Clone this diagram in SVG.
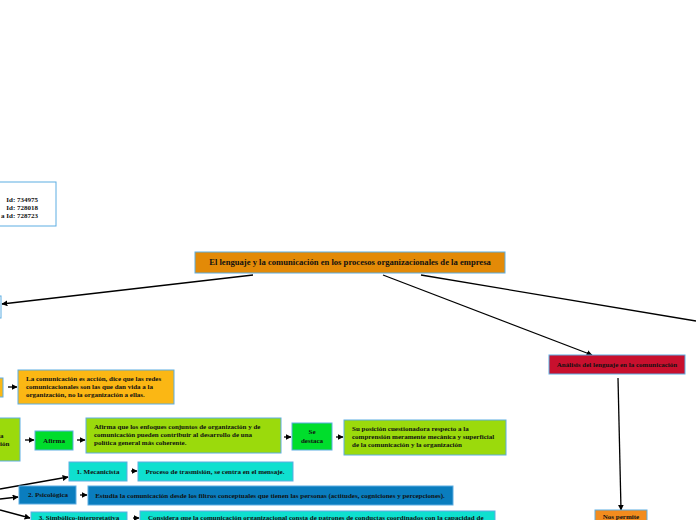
<svg xmlns="http://www.w3.org/2000/svg" width="696" height="520" viewBox="0 0 696 520">
<style>
.t{font-family:"Liberation Serif","Times New Roman",serif;font-weight:bold;font-size:7px;fill:#111}
.c{text-anchor:middle}
.box{stroke:#5DADE2;stroke-width:1}
.ln{stroke:#000;stroke-width:1.3;fill:none}
</style>
<defs>
<marker id="ah" viewBox="0 0 10 10" refX="9" refY="5" markerWidth="6" markerHeight="6" orient="auto" markerUnits="userSpaceOnUse">
<path d="M0,0 L10,5 L0,10 z" fill="#000"/>
</marker>
</defs>
<rect width="696" height="520" fill="#fff"/>
<g id="connectors">
<line class="ln" x1="253" y1="275" x2="2" y2="304" marker-end="url(#ah)"/>
<line class="ln" x1="383" y1="275" x2="592" y2="355" marker-end="url(#ah)"/>
<line class="ln" x1="421" y1="275" x2="696" y2="321"/>
<line class="ln" x1="618" y1="378" x2="621" y2="510" marker-end="url(#ah)"/>
<line class="ln" x1="8" y1="387" x2="17" y2="387" marker-end="url(#ah)"/>
<line class="ln" x1="25" y1="440" x2="34" y2="440" marker-end="url(#ah)"/>
<line class="ln" x1="77" y1="440" x2="85" y2="440" marker-end="url(#ah)"/>
<line class="ln" x1="284" y1="437" x2="291" y2="437" marker-end="url(#ah)"/>
<line class="ln" x1="336" y1="437" x2="343" y2="437" marker-end="url(#ah)"/>
<line class="ln" x1="131" y1="471" x2="137" y2="471" marker-end="url(#ah)"/>
<line class="ln" x1="80" y1="495" x2="87" y2="495" marker-end="url(#ah)"/>
<line class="ln" x1="133" y1="518" x2="139" y2="518" marker-end="url(#ah)"/>
<line class="ln" x1="0" y1="489" x2="68" y2="477" marker-end="url(#ah)"/>
<line class="ln" x1="0" y1="499" x2="18" y2="497" marker-end="url(#ah)"/>
<line class="ln" x1="0" y1="510" x2="30" y2="518" marker-end="url(#ah)"/>
</g>
<g id="ids">
<rect class="box" x="-5" y="182" width="61" height="44" fill="#fff"/>
<text class="t" x="38" y="202" text-anchor="end">Id: 734975</text>
<text class="t" x="38" y="210" text-anchor="end">Id: 728018</text>
<text class="t" x="38" y="218" text-anchor="end">a  Id: 728723</text>
</g>
<g id="main">
<rect class="box" x="195" y="252" width="310" height="21" fill="#E38A07"/>
<text class="t c" x="350" y="265" style="font-size:8.6px">El lenguaje y la comunicación en los procesos organizacionales de la empresa</text>
</g>
<g id="left-top">
<rect class="box" x="-40" y="296" width="41" height="22" fill="#fff"/>
</g>
<g id="analisis">
<rect class="box" x="549" y="355" width="136" height="19" fill="#C8102E"/>
<text class="t c" x="617" y="367">Análisis del lenguaje en la comunicación</text>
</g>
<g id="nos-permite">
<rect class="box" x="595" y="510" width="52" height="20" fill="#F28C1E"/>
<text class="t c" x="621" y="519">Nos permite</text>
</g>
<g id="yellow-left">
<rect class="box" x="-30" y="378" width="33" height="19" fill="#FBB714"/>
</g>
<g id="accion">
<rect class="box" x="18" y="370" width="156" height="34" fill="#FBB714"/>
<text class="t" x="26" y="381">La comunicación es acción, dice que las redes</text>
<text class="t" x="26" y="389">comunicacionales son las que dan vida a la</text>
<text class="t" x="26" y="397">organización, no la organización a ellas.</text>
</g>
<g id="lime-left">
<rect class="box" x="-40" y="418" width="60" height="43" fill="#9BDA0C"/>
<text class="t" x="0" y="438">a</text>
<text class="t" x="0" y="446">ión</text>
</g>
<g id="afirma">
<rect class="box" x="35" y="431" width="38" height="19" fill="#00DD2C"/>
<text class="t c" x="54" y="443">Afirma</text>
</g>
<g id="enfoques">
<rect class="box" x="86" y="418" width="195" height="35" fill="#9BDA0C"/>
<text class="t" x="94" y="429">Afirma que los enfoques conjuntos de organización y de</text>
<text class="t" x="94" y="437">comunicación pueden contribuir al desarrollo de una</text>
<text class="t" x="94" y="445">política general más coherente.</text>
</g>
<g id="destaca">
<rect class="box" x="292" y="423" width="40" height="27" fill="#00DD2C"/>
<text class="t c" x="312" y="434">Se</text>
<text class="t c" x="312" y="443">destaca</text>
</g>
<g id="posicion">
<rect class="box" x="344" y="420" width="162" height="35" fill="#9BDA0C"/>
<text class="t" x="352" y="431">Su posición cuestionadora respecto a la</text>
<text class="t" x="352" y="439">comprensión meramente mecánica y superficial</text>
<text class="t" x="352" y="447">de la comunicación y la organización</text>
</g>
<g id="mecanicista">
<rect class="box" x="69" y="462" width="58" height="19" fill="#0FE0CF"/>
<text class="t c" x="98" y="474">1. Mecanicista</text>
</g>
<g id="trasmision">
<rect class="box" x="138" y="462" width="155" height="19" fill="#0FE0CF"/>
<text class="t c" x="215" y="474">Proceso de trasmisión, se centra en el mensaje.</text>
</g>
<g id="psicologica">
<rect class="box" x="19" y="486" width="57" height="18" fill="#0A7DBE"/>
<text class="t c" x="48" y="497">2. Psicológica</text>
</g>
<g id="filtros">
<rect class="box" x="88" y="486" width="365" height="19" fill="#0A7DBE"/>
<text class="t c" x="270" y="498">Estudia la comunicación desde los filtros conceptuales que tienen las personas (actitudes, cogniciones y percepciones).</text>
</g>
<g id="simbolica">
<rect class="box" x="31" y="512" width="96" height="20" fill="#0FE0CF"/>
<text class="t c" x="79" y="519.5">3. Simbólico-interpretativa</text>
</g>
<g id="considera">
<rect class="box" x="140" y="511" width="355" height="20" fill="#0FE0CF"/>
<text class="t" x="148" y="519.5">Considera que la comunicación organizacional consta de patrones de conductas coordinados con la capacidad de</text>
</g>
</svg>
